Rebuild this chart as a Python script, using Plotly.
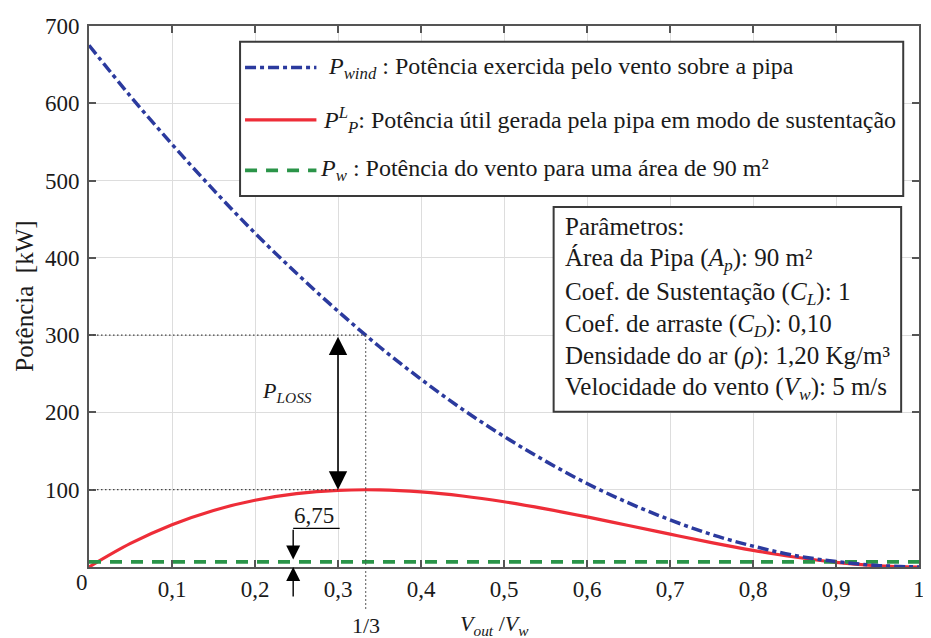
import plotly.graph_objects as go

# ---------------- data ----------------
x_ratio = [0.0, 0.05, 0.1, 0.15, 0.2, 0.25, 0.3, 0.35, 0.4, 0.45, 0.5,
           0.55, 0.6, 0.65, 0.7, 0.75, 0.8, 0.85, 0.9, 0.95, 1.0]
p_wind = [675, 609, 547, 488, 432, 380, 331, 285, 243, 204, 169,
          137, 108, 83, 61, 42, 27, 15, 7, 2, 0]
p_lift = [0, 30.5, 54.7, 73.2, 86.4, 94.9, 99.2, 99.8, 97.2, 91.9, 84.4,
          75.2, 64.8, 53.7, 42.5, 31.6, 21.6, 12.9, 6.1, 1.6, 0]
p_w_x = [0.0, 1.0]
p_w = [6.75, 6.75]

x_tick_vals = [0.1, 0.2, 0.3, 0.4, 0.5, 0.6, 0.7, 0.8, 0.9, 1.0]
x_tick_text = ["0,1", "0,2", "0,3", "0,4", "0,5", "0,6", "0,7", "0,8", "0,9", "1"]
y_tick_vals = [0, 100, 200, 300, 400, 500, 600, 700]
y_tick_text = ["", "100", "200", "300", "400", "500", "600", "700"]
origin_label = "0"

x_opt = 1 / 3          # optimum ratio
p_opt = 100            # max useful power
p_wind_opt = 300       # kite power at optimum
p_w_value = 6.75

legend_rows = [
    "<i>P</i><sub><i>wind</i></sub> : Potência exercida pelo vento sobre a pipa",
    "<i>P</i><sup><i>L</i></sup><sub><i>P</i></sub>: Potência útil gerada pela pipa em modo de sustentação",
    "<i>P</i><sub><i>w</i></sub> : Potência do vento para uma área de 90 m²",
]
param_rows = [
    "Parâmetros:",
    "Área da Pipa (<i>A</i><sub><i>p</i></sub>): 90 m²",
    "Coef. de Sustentação (<i>C</i><sub><i>L</i></sub>): 1",
    "Coef. de arraste (<i>C</i><sub><i>D</i></sub>): 0,10",
    "Densidade do ar (<i>ρ</i>): 1,20 Kg/m³",
    "Velocidade do vento (<i>V</i><sub><i>w</i></sub>): 5 m/s",
]

# ---------------- style ----------------
FONT = "Liberation Serif"
BLUE = "#2b3a9e"
RED = "#ee2d38"
GREEN = "#2a9448"
FRAME = "#555555"
TXT = "#1a1a1a"

fig = go.Figure()
fig.add_trace(go.Scatter(x=x_ratio, y=p_lift, mode="lines", line_shape="spline",
                         line=dict(color=RED, width=3.2), showlegend=False))
fig.add_trace(go.Scatter(x=p_w_x, y=p_w, mode="lines",
                         line=dict(color=GREEN, width=3.8, dash="12px,9px"), showlegend=False))
fig.add_trace(go.Scatter(x=x_ratio, y=p_wind, mode="lines", line_shape="spline",
                         line=dict(color=BLUE, width=3.5, dash="11px,4px,4px,4px"), showlegend=False))

shapes = []
annotations = []
DOT = dict(color="#444444", width=1.2, dash="1.5px,2.5px")

# dotted guide lines
shapes.append(dict(type="line", xref="x", yref="y", x0=0, x1=x_opt, y0=p_wind_opt, y1=p_wind_opt, line=DOT))
shapes.append(dict(type="line", xref="x", yref="y", x0=0, x1=0.3, y0=p_opt, y1=p_opt, line=DOT))
shapes.append(dict(type="line", xref="paper", yref="paper", x0=x_opt, x1=x_opt,
                   y0=p_wind_opt / 700, y1=-0.079, line=DOT))

# P_LOSS double arrow
annotations.append(dict(x=0.3, y=p_opt, ax=0.3, ay=p_wind_opt, xref="x", yref="y",
                        axref="x", ayref="y", text="", showarrow=True,
                        arrowhead=2, startarrowhead=2, arrowside="end+start",
                        arrowsize=2.3, startarrowsize=2.3, arrowwidth=1.6, arrowcolor="black"))
annotations.append(dict(x=0.238, y=226, xref="x", yref="y", showarrow=False,
                        xanchor="center", yanchor="middle",
                        text="<i>P</i><sub><i>LOSS</i></sub>",
                        font=dict(family=FONT, size=22, color=TXT)))

# 6,75 marker
shapes.append(dict(type="line", xref="x", yref="y", x0=0.246, x1=0.302, y0=50, y1=50,
                   line=dict(color="black", width=1.4)))
annotations.append(dict(x=0.246, y=p_w_value + 3, ax=0.246, ay=50, xref="x", yref="y",
                        axref="x", ayref="y", text="", showarrow=True,
                        arrowhead=2, arrowsize=2.0, arrowwidth=1.4, arrowcolor="black"))
annotations.append(dict(x=0.246, y=0, ax=0.246, ay=-40, xref="x", yref="y",
                        axref="x", ayref="y", text="", showarrow=True,
                        arrowhead=2, arrowsize=2.0, arrowwidth=1.4, arrowcolor="black"))
annotations.append(dict(x=0.2715, y=66, xref="x", yref="y", showarrow=False, text="6,75",
                        xanchor="center", yanchor="middle",
                        font=dict(family=FONT, size=23, color=TXT)))

# origin label, 1/3 label and axis titles
annotations.append(dict(x=-0.008, y=-0.028, xref="paper", yref="paper", showarrow=False,
                        xanchor="center", yanchor="middle",
                        text=origin_label, font=dict(family=FONT, size=23, color=TXT)))
annotations.append(dict(x=x_opt, y=-0.108, xref="paper", yref="paper", showarrow=False,
                        xanchor="center", yanchor="middle",
                        text="1/3", font=dict(family=FONT, size=22, color=TXT)))
annotations.append(dict(x=0.488, y=-0.108, xref="paper", yref="paper", showarrow=False,
                        xanchor="center", yanchor="middle",
                        text="<i>V</i><sub><i>out</i></sub> /<i>V</i><sub><i>w</i></sub>",
                        font=dict(family=FONT, size=22, color=TXT)))
annotations.append(dict(x=-0.078, y=0.50, xref="paper", yref="paper", showarrow=False,
                        xanchor="center", yanchor="middle",
                        text="Potência  [kW]", textangle=-90,
                        font=dict(family=FONT, size=25, color=TXT)))

# legend box (drawn manually)
shapes.append(dict(type="rect", xref="paper", yref="paper", x0=0.182, x1=0.981,
                   y0=0.6856, y1=0.9707, layer="above",
                   line=dict(color="#3a3a3a", width=2), fillcolor="white"))
row_y = [0.9232, 0.8263, 0.7331]
row_x = [0.286, 0.279, 0.276]
row_lines = [dict(color=BLUE, width=3.5, dash="11px,4px,4px,4px"),
             dict(color=RED, width=3.2),
             dict(color=GREEN, width=3.8, dash="12px,9px")]
for txt, yy, xx, ln in zip(legend_rows, row_y, row_x, row_lines):
    shapes.append(dict(type="line", xref="paper", yref="paper", x0=0.188, x1=0.274,
                       y0=yy, y1=yy, layer="above", line=ln))
    annotations.append(dict(x=xx, y=yy, xref="paper", yref="paper", xanchor="left",
                            yanchor="middle", showarrow=False, text=txt,
                            font=dict(family=FONT, size=24, color=TXT)))

# parameter box
shapes.append(dict(type="rect", xref="paper", yref="paper", x0=0.5598, x1=0.9785,
                   y0=0.287, y1=0.6654, layer="above",
                   line=dict(color="#3a3a3a", width=2), fillcolor="white"))
param_y = [0.6289, 0.5686, 0.5064, 0.4461, 0.3894, 0.3291]
for txt, yy in zip(param_rows, param_y):
    annotations.append(dict(x=0.5706, y=yy, xref="paper", yref="paper", xanchor="left",
                            yanchor="middle", showarrow=False, text=txt,
                            font=dict(family=FONT, size=25, color=TXT)))

# The page body has an 8px margin, so the figure is sized/offset to compensate.
fig.update_layout(
    width=923, height=630, autosize=False,
    margin=dict(l=81, r=6, t=12, b=71),
    paper_bgcolor="white", plot_bgcolor="white",
    font=dict(family=FONT, size=23, color=TXT),
    shapes=shapes, annotations=annotations, showlegend=False,
)
fig.update_xaxes(range=[0, 1], tickvals=x_tick_vals, ticktext=x_tick_text,
                 showgrid=True, gridcolor="#dddddd", gridwidth=1,
                 showline=True, linecolor=FRAME, linewidth=2, mirror="allticks",
                 ticks="inside", ticklen=7, tickcolor=FRAME, tickwidth=1.5,
                 zeroline=False, ticklabelstandoff=0,
                 tickfont=dict(family=FONT, size=23, color=TXT))
fig.update_yaxes(range=[0, 700], tickvals=y_tick_vals, ticktext=y_tick_text,
                 showgrid=True, gridcolor="#dddddd", gridwidth=1,
                 showline=True, linecolor=FRAME, linewidth=2, mirror="allticks",
                 ticks="inside", ticklen=7, tickcolor=FRAME, tickwidth=1.5,
                 zeroline=False, ticklabelstandoff=3,
                 tickfont=dict(family=FONT, size=23, color=TXT))

fig.write_html("out.html")
